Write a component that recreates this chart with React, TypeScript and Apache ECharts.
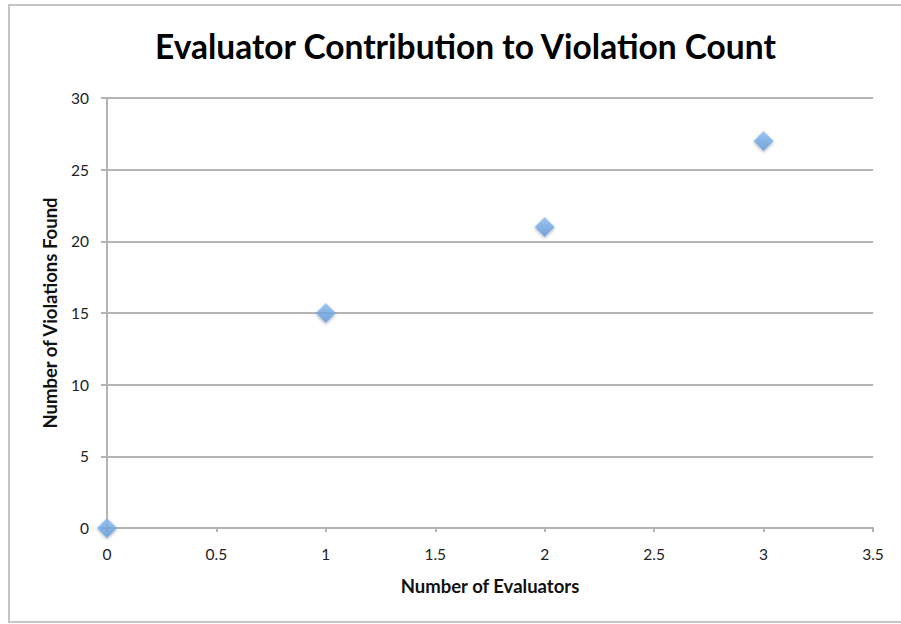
import React, { useEffect, useRef } from "react";
import * as echarts from "echarts";

const titleText = "Evaluator Contribution to Violation Count";
const xAxisName = "Number of Evaluators";
const yAxisName = "Number of Violations Found";
const evaluators = [0, 1, 2, 3];
const violations = [0, 15, 21, 27];

export default function App() {
  const ref = useRef<HTMLDivElement>(null);
  useEffect(() => {
    if (!ref.current) return;
    const chart = echarts.init(ref.current, undefined, { renderer: "svg" });
    const font = "Lato, 'Open Sans', sans-serif";
    chart.setOption({
      animation: false,
      backgroundColor: "#ffffff",
      title: {
        text: titleText,
        left: 150,
        top: 24,
        textStyle: { fontFamily: font, fontWeight: "bold", fontSize: 33.5, color: "#000000" },
      },
      graphic: [
        {
          type: "rect",
          shape: { x: 9, y: 5, width: 900, height: 617 },
          style: { fill: "none", stroke: "#c4c4c4", lineWidth: 2 },
          silent: true,
        },
      ],
      grid: { left: 107, right: 28, top: 98, bottom: 96 },
      xAxis: {
        type: "value",
        min: 0,
        max: 3.5,
        interval: 0.5,
        name: xAxisName,
        nameLocation: "middle",
        nameGap: 48,
        nameTextStyle: { fontFamily: font, fontWeight: "bold", fontSize: 18.5, color: "#111" },
        axisLine: { show: true, lineStyle: { color: "#b4b4b4", width: 2 } },
        axisTick: { show: true, length: 4, lineStyle: { color: "#b4b4b4", width: 2 } },
        axisLabel: { fontFamily: font, fontSize: 15.5, color: "#222", margin: 18 },
        splitLine: { show: false },
      },
      yAxis: {
        type: "value",
        min: 0,
        max: 30,
        interval: 5,
        name: yAxisName,
        nameLocation: "middle",
        nameGap: 48,
        nameTextStyle: { fontFamily: font, fontWeight: "bold", fontSize: 18.5, color: "#111" },
        axisLine: { show: true, lineStyle: { color: "#b4b4b4", width: 2 } },
        axisTick: { show: true, length: 6, lineStyle: { color: "#b4b4b4", width: 2 } },
        axisLabel: { fontFamily: font, fontSize: 15.5, color: "#222", margin: 18 },
        splitLine: { show: true, lineStyle: { color: "#b4b4b4", width: 2 } },
      },
      series: [
        {
          type: "scatter",
          symbol: "diamond",
          symbolSize: [20, 20],
          data: evaluators.map((x, i) => [x, violations[i]]),
          itemStyle: {
            color: {
              type: "linear",
              x: 0, y: 0, x2: 0, y2: 1,
              colorStops: [
                { offset: 0, color: "#8cbdf0" },
                { offset: 1, color: "#5f98da" },
              ],
            },
            shadowColor: "rgba(0,0,0,0.35)",
            shadowBlur: 3,
            shadowOffsetY: 1.5,
          },
        },
      ],
    });
    return () => chart.dispose();
  }, []);
  return (
    <div
      ref={ref}
      style={{ position: "fixed", left: 0, top: 0, width: 901, height: 624 }}
    />
  );
}
